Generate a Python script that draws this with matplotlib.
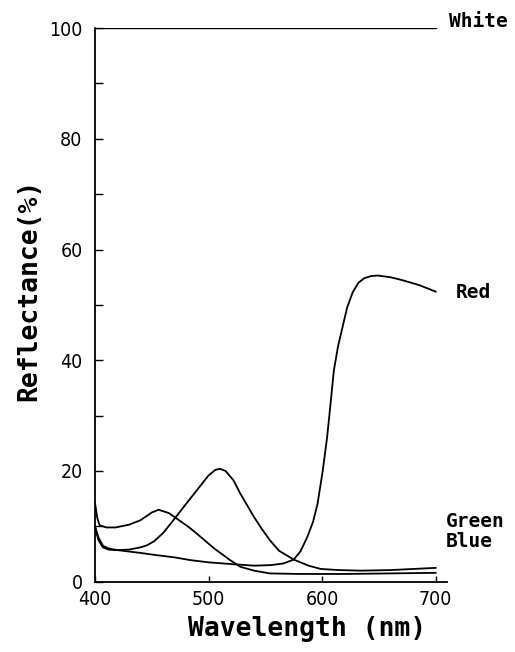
import matplotlib
matplotlib.use("Agg")
import matplotlib.pyplot as plt

# Data
wl_white = [400, 700]
white = [100, 100]

wl_blue = [400, 402, 404, 410, 418, 430, 440, 450, 456, 465, 472, 483, 493, 505, 519, 528, 540, 554, 580, 620, 660, 700]
blue = [14.2, 11.5, 10.2, 9.8, 9.8, 10.3, 11.1, 12.5, 13.0, 12.4, 11.4, 9.8, 8.1, 6.0, 3.9, 2.7, 2.0, 1.5, 1.4, 1.4, 1.5, 1.6]

wl_green = [400, 403, 407, 412, 418, 430, 440, 446, 452, 460, 469, 480, 490, 500, 506, 510, 515, 522, 528, 534, 540, 547, 554, 562, 575, 588, 599, 615, 634, 660, 700]
green = [9.9, 7.5, 6.2, 5.8, 5.7, 5.8, 6.2, 6.6, 7.3, 8.8, 11.1, 14.0, 16.6, 19.2, 20.2, 20.4, 20.0, 18.3, 15.9, 13.8, 11.7, 9.5, 7.5, 5.6, 4.0, 2.9, 2.3, 2.1, 2.0, 2.1, 2.5]

wl_red = [400, 403, 407, 412, 420, 440, 454, 470, 484, 500, 519, 540, 555, 566, 575, 581, 587, 592, 596, 600.6, 604.4, 607.4, 610.3, 614, 618, 622, 627, 632, 637, 643, 649, 660, 670, 685, 700]
red = [10.0, 8.0, 6.5, 6.0, 5.7, 5.2, 4.8, 4.4, 3.9, 3.5, 3.2, 2.9, 3.0, 3.3, 4.0, 5.5, 8.1, 10.8, 14.1, 20.1, 26.1, 32.1, 38.1, 42.5, 46.0, 49.5, 52.3, 54.0, 54.8, 55.2, 55.3, 55.0, 54.5, 53.6, 52.4]

labels = ["White", "Red", "Green", "Blue"]
label_pos = [(711.5, 101.2), (717.6, 52.2), (708.8, 10.9), (708.8, 7.3)]

yticks = [0, 20, 40, 60, 80, 100]
xticks = [400, 500, 600, 700]

fnt = ['DejaVu Sans']

fig = plt.figure(figsize=(5.15, 6.52), dpi=100)
ax = fig.add_axes([0.1845, 0.1078, 0.868 - 0.1845, 0.957 - 0.1078])

ax.plot(wl_white, white, color='black', lw=1.0)
for xs, ys in [(wl_blue, blue), (wl_green, green), (wl_red, red)]:
    ax.plot(xs, ys, color='black', lw=1.3)

ax.set_xlim(400, 710)
ax.set_ylim(0, 100)
ax.spines['top'].set_visible(False)
ax.spines['right'].set_visible(False)
for s in ['left', 'bottom']:
    ax.spines[s].set_linewidth(1.3)

ax.set_yticks(yticks)
ax.set_yticks(range(10, 100, 20), minor=True)
ax.set_xticks(xticks)
ax.tick_params(axis='both', which='both', direction='in', length=6, width=1.0)
ax.tick_params(axis='x', length=4, pad=6)
ax.tick_params(axis='y', pad=9)
for lab in ax.get_xticklabels() + ax.get_yticklabels():
    lab.set_fontfamily(fnt)
    lab.set_fontstretch('condensed')
    lab.set_fontsize(14)
for lab in ax.get_yticklabels():
    lab.set_verticalalignment('center_baseline')

ax.set_xlabel("Wavelength (nm)", fontfamily=['DejaVu Sans Mono'], fontsize=19, fontweight='bold')
ax.xaxis.set_label_coords(0.602, -0.062)
ax.set_ylabel("Reflectance(%)", fontfamily=['DejaVu Sans Mono'], fontsize=19, fontweight='bold')
ax.yaxis.set_label_coords(-0.15, 0.527)

for t, (x, y) in zip(labels, label_pos):
    ax.text(x, y, t, fontfamily=['DejaVu Sans Mono'], fontweight='bold', fontsize=14,
            ha='left', va='center', clip_on=False)

fig.savefig("out.png", dpi=100)
